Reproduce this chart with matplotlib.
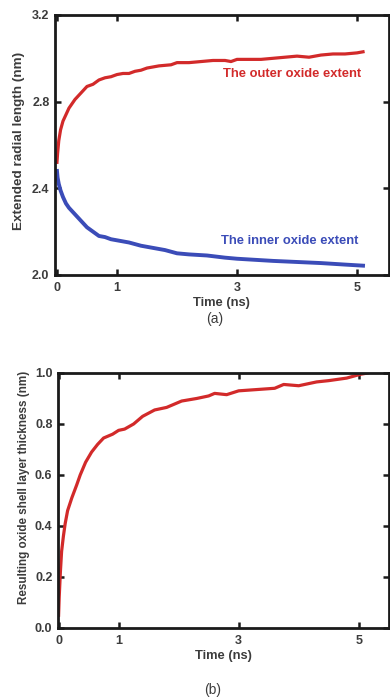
import matplotlib.pyplot as plt

# panel (a): extended radial length (nm) vs time (ns)
outer_t = [0.0, 0.01, 0.03, 0.06, 0.1, 0.15, 0.2, 0.3, 0.4, 0.5, 0.6, 0.7, 0.8, 0.9, 1.0, 1.1, 1.2,
           1.3, 1.4, 1.5, 1.7, 1.9, 2.0, 2.2, 2.4, 2.6, 2.8, 2.9, 3.0, 3.2, 3.4, 3.6, 3.8, 4.0, 4.2,
           4.4, 4.6, 4.8, 5.0, 5.1]
outer_r = [2.52, 2.56, 2.62, 2.67, 2.71, 2.74, 2.77, 2.81, 2.84, 2.87, 2.88, 2.90, 2.91, 2.915, 2.925,
           2.93, 2.93, 2.94, 2.945, 2.955, 2.965, 2.97, 2.98, 2.98, 2.985, 2.99, 2.99, 2.985, 2.995,
           2.995, 2.995, 3.0, 3.005, 3.01, 3.005, 3.015, 3.02, 3.02, 3.025, 3.03]
inner_t = [0.0, 0.01, 0.03, 0.06, 0.1, 0.15, 0.2, 0.3, 0.4, 0.5, 0.6, 0.7, 0.8, 0.9, 1.0, 1.2, 1.4,
           1.6, 1.8, 2.0, 2.2, 2.5, 2.8, 3.0, 3.3, 3.6, 4.0, 4.4, 4.8, 5.1]
inner_r = [2.48, 2.45, 2.42, 2.39, 2.36, 2.33, 2.31, 2.28, 2.25, 2.22, 2.20, 2.18, 2.175, 2.165, 2.16,
           2.15, 2.135, 2.125, 2.115, 2.10, 2.095, 2.09, 2.08, 2.075, 2.07, 2.065, 2.06, 2.055,
           2.048, 2.043]

# panel (b): resulting oxide shell layer thickness (nm) vs time (ns)
shell_t = [0.0, 0.01, 0.03, 0.05, 0.08, 0.11, 0.15, 0.22, 0.3, 0.36, 0.45, 0.55, 0.65, 0.75, 0.9,
           1.0, 1.1, 1.25, 1.4, 1.6, 1.8, 2.05, 2.3, 2.5, 2.6, 2.8, 3.0, 3.3, 3.6, 3.75, 4.0, 4.3,
           4.5, 4.8, 5.03, 5.15]
shell_d = [0.05, 0.12, 0.22, 0.3, 0.36, 0.41, 0.46, 0.51, 0.56, 0.60, 0.65, 0.69, 0.72, 0.745, 0.76,
           0.775, 0.78, 0.80, 0.83, 0.855, 0.865, 0.89, 0.90, 0.91, 0.92, 0.915, 0.93, 0.935, 0.94,
           0.955, 0.95, 0.965, 0.97, 0.98, 0.995, 1.0]

RED = "#d22a2a"
BLUE = "#3b4cb8"
TXT = "#3c3c3c"

plt.rcParams["font.family"] = ["Liberation Sans", "DejaVu Sans"]
plt.rcParams["font.weight"] = "bold"

fig = plt.figure(figsize=(3.9, 6.99), dpi=100)
ax_a = fig.add_axes([0.141, 0.6066, 0.856, 0.372])
ax_b = fig.add_axes([0.1487, 0.1016, 0.848, 0.3648])


def style(ax):
    for s in ax.spines.values():
        s.set_linewidth(2.0)
        s.set_color("#1a1a1a")
    ax.tick_params(direction="in", length=4, width=1.8, top=True, right=True,
                   labelsize=9, labelcolor=TXT, pad=4, color="#1a1a1a")
    ax.tick_params(axis="x", pad=5)
    ax.set_xticks([0, 1, 3, 5])
    for lab in ax.get_xticklabels() + ax.get_yticklabels():
        lab.set_fontweight("bold")
    ax.set_xlabel("Time (ns)", fontsize=9.3, fontweight="bold", color=TXT, labelpad=2)


ax_a.plot(outer_t, outer_r, color=RED, lw=2.3)
ax_a.plot(inner_t, inner_r, color=BLUE, lw=2.8)
ax_a.set_xlim(-0.033, 5.53)
ax_a.set_ylim(2.0, 3.2)
ax_a.set_yticks([2.0, 2.4, 2.8, 3.2])
ax_a.set_yticklabels(["2.0", "2.4", "2.8", "3.2"])
style(ax_a)
ax_a.set_ylabel("Extended radial length (nm)", fontsize=9.7, fontweight="bold", color=TXT)
ax_a.yaxis.set_label_coords(-0.091, 0.515)
ax_a.text(3.92, 2.928, "The outer oxide extent", color=RED, fontsize=9.4, fontweight="bold",
          ha="center", va="center")
ax_a.text(3.87, 2.157, "The inner oxide extent", color=BLUE, fontsize=9.4, fontweight="bold",
          ha="center", va="center")

ax_b.plot(shell_t, shell_d, color=RED, lw=2.3)
ax_b.set_xlim(-0.01, 5.5)
ax_b.set_ylim(0.0, 1.0)
ax_b.set_yticks([0.0, 0.2, 0.4, 0.6, 0.8, 1.0])
ax_b.set_yticklabels(["0.0", "0.2", "0.4", "0.6", "0.8", "1.0"])
style(ax_b)
ax_b.set_ylabel("Resulting oxide shell layer thickness (nm)", fontsize=8.4, fontweight="bold",
                color=TXT)
ax_b.yaxis.set_label_coords(-0.086, 0.55)

fig.text(215 / 390, 1 - 319 / 699, "(a)", fontsize=10, color=TXT, ha="center", va="center",
         fontweight="normal")
fig.text(213 / 390, 1 - 690 / 699, "(b)", fontsize=10, color=TXT, ha="center", va="center",
         fontweight="normal")

fig.savefig("out.png", dpi=100)
